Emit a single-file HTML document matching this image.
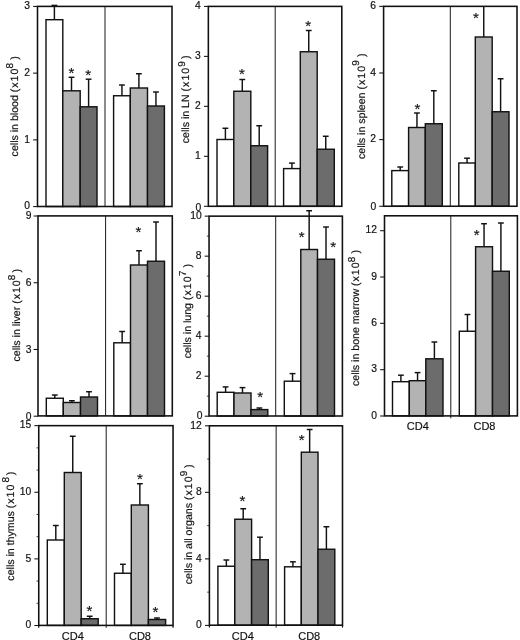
<!DOCTYPE html>
<html lang="en">
<head>
<meta charset="utf-8">
<title>Cell counts per organ</title>
<style>
html,body{margin:0;padding:0;background:#fff;}
body{width:520px;height:640px;overflow:hidden;}
svg{display:block;filter:blur(0.3px);}
svg text{font-family:"Liberation Sans", Arial, Helvetica, sans-serif;font-size:11px;fill:#111;stroke:#111;stroke-width:0.18px;}
svg text.yl{font-size:10.6px;text-rendering:geometricPrecision;}
svg text.tk{font-size:10.3px;}
svg text.st{font-size:15px;stroke-width:0.15px;}
</style>
</head>
<body>
<svg width="520" height="640" viewBox="0 0 520 640">
<rect x="0" y="0" width="520" height="640" fill="#fff"/>
<g>
<line x1="105.0" y1="6.4" x2="105.0" y2="206.5" stroke="#1a1a1a" stroke-width="1.0"/>
<line x1="54.40" y1="19.7" x2="54.40" y2="5.4" stroke="#111" stroke-width="1.45"/>
<line x1="51.50" y1="5.4" x2="57.30" y2="5.4" stroke="#111" stroke-width="1.45"/>
<line x1="71.50" y1="90.8" x2="71.50" y2="77.3" stroke="#111" stroke-width="1.45"/>
<line x1="68.60" y1="77.3" x2="74.40" y2="77.3" stroke="#111" stroke-width="1.45"/>
<line x1="88.60" y1="106.8" x2="88.60" y2="79.2" stroke="#111" stroke-width="1.45"/>
<line x1="85.70" y1="79.2" x2="91.50" y2="79.2" stroke="#111" stroke-width="1.45"/>
<line x1="121.95" y1="95.75" x2="121.95" y2="85.0" stroke="#111" stroke-width="1.45"/>
<line x1="119.05" y1="85.0" x2="124.85" y2="85.0" stroke="#111" stroke-width="1.45"/>
<line x1="138.90" y1="88.0" x2="138.90" y2="73.75" stroke="#111" stroke-width="1.45"/>
<line x1="136.00" y1="73.75" x2="141.80" y2="73.75" stroke="#111" stroke-width="1.45"/>
<line x1="155.95" y1="106.0" x2="155.95" y2="92.0" stroke="#111" stroke-width="1.45"/>
<line x1="153.05" y1="92.0" x2="158.85" y2="92.0" stroke="#111" stroke-width="1.45"/>
<rect x="46.0" y="19.7" width="16.80" height="186.80" fill="#fff" stroke="#111" stroke-width="1.42"/>
<rect x="62.8" y="90.8" width="17.40" height="115.70" fill="#b3b3b3" stroke="#111" stroke-width="1.42"/>
<rect x="80.2" y="106.8" width="16.80" height="99.70" fill="#6c6c6c" stroke="#111" stroke-width="1.42"/>
<rect x="113.6" y="95.75" width="16.70" height="110.75" fill="#fff" stroke="#111" stroke-width="1.42"/>
<rect x="130.3" y="88.0" width="17.20" height="118.50" fill="#b3b3b3" stroke="#111" stroke-width="1.42"/>
<rect x="147.5" y="106.0" width="16.90" height="100.50" fill="#6c6c6c" stroke="#111" stroke-width="1.42"/>
<rect x="37.5" y="6.4" width="134.50" height="200.10" fill="none" stroke="#111" stroke-width="1.5699999999999998"/>
<line x1="33.1" y1="206.60" x2="37.5" y2="206.60" stroke="#111" stroke-width="1.05"/>
<text x="29.90" y="209.35" text-anchor="end" class="tk">0</text>
<line x1="33.1" y1="139.87" x2="37.5" y2="139.87" stroke="#111" stroke-width="1.05"/>
<text x="29.90" y="142.62" text-anchor="end" class="tk">1</text>
<line x1="33.1" y1="73.13" x2="37.5" y2="73.13" stroke="#111" stroke-width="1.05"/>
<text x="29.90" y="75.88" text-anchor="end" class="tk">2</text>
<line x1="33.1" y1="6.40" x2="37.5" y2="6.40" stroke="#111" stroke-width="1.05"/>
<text x="29.90" y="9.15" text-anchor="end" class="tk">3</text>
<text class="st" x="71.3" y="77.50" text-anchor="middle">*</text>
<text class="st" x="88.2" y="80.00" text-anchor="middle">*</text>
<text class="yl" transform="translate(18.2,106.3) rotate(-90)" text-anchor="middle">cells in blood <tspan letter-spacing="1">(x10</tspan><tspan dx="-0.9" dy="-4.8" font-size="10">8</tspan><tspan dx="3.2" dy="4.8">)</tspan></text>
</g>
<g>
<line x1="275.2" y1="6.4" x2="275.2" y2="206.3" stroke="#1a1a1a" stroke-width="1.0"/>
<line x1="225.40" y1="139.5" x2="225.40" y2="128.25" stroke="#111" stroke-width="1.45"/>
<line x1="222.50" y1="128.25" x2="228.30" y2="128.25" stroke="#111" stroke-width="1.45"/>
<line x1="242.30" y1="91.25" x2="242.30" y2="79.5" stroke="#111" stroke-width="1.45"/>
<line x1="239.40" y1="79.5" x2="245.20" y2="79.5" stroke="#111" stroke-width="1.45"/>
<line x1="259.20" y1="145.75" x2="259.20" y2="125.75" stroke="#111" stroke-width="1.45"/>
<line x1="256.30" y1="125.75" x2="262.10" y2="125.75" stroke="#111" stroke-width="1.45"/>
<line x1="291.95" y1="168.6" x2="291.95" y2="163.1" stroke="#111" stroke-width="1.45"/>
<line x1="289.05" y1="163.1" x2="294.85" y2="163.1" stroke="#111" stroke-width="1.45"/>
<line x1="308.75" y1="51.75" x2="308.75" y2="30.5" stroke="#111" stroke-width="1.45"/>
<line x1="305.85" y1="30.5" x2="311.65" y2="30.5" stroke="#111" stroke-width="1.45"/>
<line x1="325.75" y1="149.25" x2="325.75" y2="136.25" stroke="#111" stroke-width="1.45"/>
<line x1="322.85" y1="136.25" x2="328.65" y2="136.25" stroke="#111" stroke-width="1.45"/>
<rect x="217.0" y="139.5" width="16.80" height="66.80" fill="#fff" stroke="#111" stroke-width="1.42"/>
<rect x="233.8" y="91.25" width="17.00" height="115.05" fill="#b3b3b3" stroke="#111" stroke-width="1.42"/>
<rect x="250.8" y="145.75" width="16.80" height="60.55" fill="#6c6c6c" stroke="#111" stroke-width="1.42"/>
<rect x="283.6" y="168.6" width="16.70" height="37.70" fill="#fff" stroke="#111" stroke-width="1.42"/>
<rect x="300.3" y="51.75" width="16.90" height="154.55" fill="#b3b3b3" stroke="#111" stroke-width="1.42"/>
<rect x="317.2" y="149.25" width="17.10" height="57.05" fill="#6c6c6c" stroke="#111" stroke-width="1.42"/>
<rect x="208.35" y="6.4" width="133.45" height="199.90" fill="none" stroke="#111" stroke-width="1.5699999999999998"/>
<line x1="203.95" y1="206.30" x2="208.35" y2="206.30" stroke="#111" stroke-width="1.05"/>
<text x="201.35" y="211.25" text-anchor="end" class="tk">0</text>
<line x1="203.95" y1="156.33" x2="208.35" y2="156.33" stroke="#111" stroke-width="1.05"/>
<text x="200.75" y="159.08" text-anchor="end" class="tk">1</text>
<line x1="203.95" y1="106.35" x2="208.35" y2="106.35" stroke="#111" stroke-width="1.05"/>
<text x="200.75" y="109.10" text-anchor="end" class="tk">2</text>
<line x1="203.95" y1="56.38" x2="208.35" y2="56.38" stroke="#111" stroke-width="1.05"/>
<text x="200.75" y="59.12" text-anchor="end" class="tk">3</text>
<line x1="203.95" y1="6.40" x2="208.35" y2="6.40" stroke="#111" stroke-width="1.05"/>
<text x="200.75" y="9.15" text-anchor="end" class="tk">4</text>
<text class="st" x="241.8" y="79.20" text-anchor="middle">*</text>
<text class="st" x="308.2" y="30.70" text-anchor="middle">*</text>
<text class="yl" transform="translate(189.3,99.3) rotate(-90)" text-anchor="middle">cells in LN <tspan letter-spacing="1">(x10</tspan><tspan dx="0.1" dy="-4.7" font-size="10">9</tspan><tspan dx="2.2" dy="4.7">)</tspan></text>
</g>
<g>
<line x1="450.3" y1="6.35" x2="450.3" y2="206.25" stroke="#1a1a1a" stroke-width="1.0"/>
<line x1="400.20" y1="170.6" x2="400.20" y2="167.0" stroke="#111" stroke-width="1.45"/>
<line x1="397.30" y1="167.0" x2="403.10" y2="167.0" stroke="#111" stroke-width="1.45"/>
<line x1="416.95" y1="127.5" x2="416.95" y2="113.0" stroke="#111" stroke-width="1.45"/>
<line x1="414.05" y1="113.0" x2="419.85" y2="113.0" stroke="#111" stroke-width="1.45"/>
<line x1="433.80" y1="123.75" x2="433.80" y2="90.75" stroke="#111" stroke-width="1.45"/>
<line x1="430.90" y1="90.75" x2="436.70" y2="90.75" stroke="#111" stroke-width="1.45"/>
<line x1="467.05" y1="163.0" x2="467.05" y2="158.2" stroke="#111" stroke-width="1.45"/>
<line x1="464.15" y1="158.2" x2="469.95" y2="158.2" stroke="#111" stroke-width="1.45"/>
<line x1="483.75" y1="37.0" x2="483.75" y2="6.4" stroke="#111" stroke-width="1.45"/>
<line x1="500.60" y1="111.75" x2="500.60" y2="78.75" stroke="#111" stroke-width="1.45"/>
<line x1="497.70" y1="78.75" x2="503.50" y2="78.75" stroke="#111" stroke-width="1.45"/>
<rect x="391.8" y="170.6" width="16.80" height="35.65" fill="#fff" stroke="#111" stroke-width="1.42"/>
<rect x="408.6" y="127.5" width="16.70" height="78.75" fill="#b3b3b3" stroke="#111" stroke-width="1.42"/>
<rect x="425.3" y="123.75" width="17.00" height="82.50" fill="#6c6c6c" stroke="#111" stroke-width="1.42"/>
<rect x="458.8" y="163.0" width="16.50" height="43.25" fill="#fff" stroke="#111" stroke-width="1.42"/>
<rect x="475.3" y="37.0" width="16.90" height="169.25" fill="#b3b3b3" stroke="#111" stroke-width="1.42"/>
<rect x="492.2" y="111.75" width="16.80" height="94.50" fill="#6c6c6c" stroke="#111" stroke-width="1.42"/>
<rect x="383.6" y="6.35" width="133.40" height="199.90" fill="none" stroke="#111" stroke-width="1.5699999999999998"/>
<line x1="379.20000000000005" y1="206.25" x2="383.6" y2="206.25" stroke="#111" stroke-width="1.05"/>
<text x="376.30" y="209.80" text-anchor="end" class="tk">0</text>
<line x1="379.20000000000005" y1="139.62" x2="383.6" y2="139.62" stroke="#111" stroke-width="1.05"/>
<text x="376.00" y="142.37" text-anchor="end" class="tk">2</text>
<line x1="379.20000000000005" y1="72.98" x2="383.6" y2="72.98" stroke="#111" stroke-width="1.05"/>
<text x="376.00" y="75.73" text-anchor="end" class="tk">4</text>
<line x1="379.20000000000005" y1="6.35" x2="383.6" y2="6.35" stroke="#111" stroke-width="1.05"/>
<text x="376.00" y="9.10" text-anchor="end" class="tk">6</text>
<text class="st" x="417.5" y="114.20" text-anchor="middle">*</text>
<text class="st" x="476.0" y="23.45" text-anchor="middle">*</text>
<text class="yl" transform="translate(365.0,106.3) rotate(-90)" text-anchor="middle">cells in spleen <tspan letter-spacing="1">(x10</tspan><tspan dx="-0.9" dy="-5.6" font-size="10">9</tspan><tspan dx="3.2" dy="5.6">)</tspan></text>
</g>
<g>
<line x1="105.6" y1="215.9" x2="105.6" y2="415.9" stroke="#1a1a1a" stroke-width="1.0"/>
<line x1="54.80" y1="398.25" x2="54.80" y2="395.0" stroke="#111" stroke-width="1.45"/>
<line x1="51.90" y1="395.0" x2="57.70" y2="395.0" stroke="#111" stroke-width="1.45"/>
<line x1="71.90" y1="402.5" x2="71.90" y2="400.75" stroke="#111" stroke-width="1.45"/>
<line x1="69.00" y1="400.75" x2="74.80" y2="400.75" stroke="#111" stroke-width="1.45"/>
<line x1="89.00" y1="397.0" x2="89.00" y2="391.75" stroke="#111" stroke-width="1.45"/>
<line x1="86.10" y1="391.75" x2="91.90" y2="391.75" stroke="#111" stroke-width="1.45"/>
<line x1="122.15" y1="342.8" x2="122.15" y2="331.5" stroke="#111" stroke-width="1.45"/>
<line x1="119.25" y1="331.5" x2="125.05" y2="331.5" stroke="#111" stroke-width="1.45"/>
<line x1="139.00" y1="265.0" x2="139.00" y2="250.75" stroke="#111" stroke-width="1.45"/>
<line x1="136.10" y1="250.75" x2="141.90" y2="250.75" stroke="#111" stroke-width="1.45"/>
<line x1="156.00" y1="261.25" x2="156.00" y2="222.0" stroke="#111" stroke-width="1.45"/>
<line x1="153.10" y1="222.0" x2="158.90" y2="222.0" stroke="#111" stroke-width="1.45"/>
<rect x="46.3" y="398.25" width="17.00" height="17.65" fill="#fff" stroke="#111" stroke-width="1.42"/>
<rect x="63.3" y="402.5" width="17.20" height="13.40" fill="#b3b3b3" stroke="#111" stroke-width="1.42"/>
<rect x="80.5" y="397.0" width="17.00" height="18.90" fill="#6c6c6c" stroke="#111" stroke-width="1.42"/>
<rect x="113.8" y="342.8" width="16.70" height="73.10" fill="#fff" stroke="#111" stroke-width="1.42"/>
<rect x="130.5" y="265.0" width="17.00" height="150.90" fill="#b3b3b3" stroke="#111" stroke-width="1.42"/>
<rect x="147.5" y="261.25" width="17.00" height="154.65" fill="#6c6c6c" stroke="#111" stroke-width="1.42"/>
<rect x="38.0" y="215.9" width="134.30" height="200.00" fill="none" stroke="#111" stroke-width="1.5699999999999998"/>
<line x1="33.6" y1="416.20" x2="38.0" y2="416.20" stroke="#111" stroke-width="1.05"/>
<text x="31.40" y="419.65" text-anchor="end" class="tk">0</text>
<line x1="33.6" y1="349.47" x2="38.0" y2="349.47" stroke="#111" stroke-width="1.05"/>
<text x="31.40" y="352.92" text-anchor="end" class="tk">3</text>
<line x1="33.6" y1="282.73" x2="38.0" y2="282.73" stroke="#111" stroke-width="1.05"/>
<text x="31.40" y="286.18" text-anchor="end" class="tk">6</text>
<line x1="33.6" y1="216.00" x2="38.0" y2="216.00" stroke="#111" stroke-width="1.05"/>
<text x="31.40" y="219.45" text-anchor="end" class="tk">9</text>
<text class="st" x="138.3" y="236.70" text-anchor="middle">*</text>
<text class="yl" transform="translate(20.0,315.2) rotate(-90)" text-anchor="middle">cells in liver <tspan letter-spacing="1">(x10</tspan><tspan dx="-0.9" dy="-4.9" font-size="10">8</tspan><tspan dx="2.2" dy="4.9">)</tspan></text>
</g>
<g>
<line x1="275.7" y1="216.15" x2="275.7" y2="416.0" stroke="#1a1a1a" stroke-width="1.0"/>
<line x1="225.60" y1="392.3" x2="225.60" y2="386.9" stroke="#111" stroke-width="1.45"/>
<line x1="222.70" y1="386.9" x2="228.50" y2="386.9" stroke="#111" stroke-width="1.45"/>
<line x1="242.50" y1="393.0" x2="242.50" y2="387.6" stroke="#111" stroke-width="1.45"/>
<line x1="239.60" y1="387.6" x2="245.40" y2="387.6" stroke="#111" stroke-width="1.45"/>
<line x1="259.40" y1="409.6" x2="259.40" y2="408.0" stroke="#111" stroke-width="1.45"/>
<line x1="256.50" y1="408.0" x2="262.30" y2="408.0" stroke="#111" stroke-width="1.45"/>
<line x1="292.55" y1="381.2" x2="292.55" y2="373.6" stroke="#111" stroke-width="1.45"/>
<line x1="289.65" y1="373.6" x2="295.45" y2="373.6" stroke="#111" stroke-width="1.45"/>
<line x1="309.15" y1="249.5" x2="309.15" y2="210.75" stroke="#111" stroke-width="1.45"/>
<line x1="306.25" y1="210.75" x2="312.05" y2="210.75" stroke="#111" stroke-width="1.45"/>
<line x1="326.00" y1="259.25" x2="326.00" y2="227.0" stroke="#111" stroke-width="1.45"/>
<line x1="323.10" y1="227.0" x2="328.90" y2="227.0" stroke="#111" stroke-width="1.45"/>
<rect x="217.2" y="392.3" width="16.80" height="23.70" fill="#fff" stroke="#111" stroke-width="1.42"/>
<rect x="234.0" y="393.0" width="17.00" height="23.00" fill="#b3b3b3" stroke="#111" stroke-width="1.42"/>
<rect x="251.0" y="409.6" width="16.80" height="6.40" fill="#6c6c6c" stroke="#111" stroke-width="1.42"/>
<rect x="284.3" y="381.2" width="16.50" height="34.80" fill="#fff" stroke="#111" stroke-width="1.42"/>
<rect x="300.8" y="249.5" width="16.70" height="166.50" fill="#b3b3b3" stroke="#111" stroke-width="1.42"/>
<rect x="317.5" y="259.25" width="17.00" height="156.75" fill="#6c6c6c" stroke="#111" stroke-width="1.42"/>
<rect x="209.05" y="216.15" width="133.35" height="199.85" fill="none" stroke="#111" stroke-width="1.5699999999999998"/>
<line x1="204.65" y1="416.20" x2="209.05" y2="416.20" stroke="#111" stroke-width="1.05"/>
<text x="202.45" y="419.35" text-anchor="end" class="tk">0</text>
<line x1="204.65" y1="376.19" x2="209.05" y2="376.19" stroke="#111" stroke-width="1.05"/>
<text x="201.45" y="378.94" text-anchor="end" class="tk">2</text>
<line x1="204.65" y1="336.18" x2="209.05" y2="336.18" stroke="#111" stroke-width="1.05"/>
<text x="201.45" y="338.93" text-anchor="end" class="tk">4</text>
<line x1="204.65" y1="296.17" x2="209.05" y2="296.17" stroke="#111" stroke-width="1.05"/>
<text x="201.45" y="298.92" text-anchor="end" class="tk">6</text>
<line x1="204.65" y1="256.16" x2="209.05" y2="256.16" stroke="#111" stroke-width="1.05"/>
<text x="201.45" y="258.91" text-anchor="end" class="tk">8</text>
<line x1="204.65" y1="216.15" x2="209.05" y2="216.15" stroke="#111" stroke-width="1.05"/>
<text x="201.75" y="219.20" text-anchor="end" class="tk">10</text>
<line x1="206.85000000000002" y1="396.19" x2="209.05" y2="396.19" stroke="#111" stroke-width="0.8"/>
<line x1="206.85000000000002" y1="356.19" x2="209.05" y2="356.19" stroke="#111" stroke-width="0.8"/>
<line x1="206.85000000000002" y1="316.18" x2="209.05" y2="316.18" stroke="#111" stroke-width="0.8"/>
<line x1="206.85000000000002" y1="276.16" x2="209.05" y2="276.16" stroke="#111" stroke-width="0.8"/>
<line x1="206.85000000000002" y1="236.16" x2="209.05" y2="236.16" stroke="#111" stroke-width="0.8"/>
<text class="st" x="260.2" y="402.20" text-anchor="middle">*</text>
<text class="st" x="301.75" y="241.70" text-anchor="middle">*</text>
<text class="st" x="333.25" y="251.70" text-anchor="middle">*</text>
<text class="yl" transform="translate(191.2,311.2) rotate(-90)" text-anchor="middle">cells in lung <tspan letter-spacing="1">(x10</tspan><tspan dx="-0.9" dy="-5.4" font-size="10">7</tspan><tspan dx="3.2" dy="5.4">)</tspan></text>
</g>
<g>
<line x1="450.8" y1="215.8" x2="450.8" y2="418.29999999999995" stroke="#1a1a1a" stroke-width="1.0"/>
<line x1="400.90" y1="381.7" x2="400.90" y2="375.2" stroke="#111" stroke-width="1.45"/>
<line x1="398.00" y1="375.2" x2="403.80" y2="375.2" stroke="#111" stroke-width="1.45"/>
<line x1="417.55" y1="380.7" x2="417.55" y2="372.6" stroke="#111" stroke-width="1.45"/>
<line x1="414.65" y1="372.6" x2="420.45" y2="372.6" stroke="#111" stroke-width="1.45"/>
<line x1="434.40" y1="358.8" x2="434.40" y2="342.0" stroke="#111" stroke-width="1.45"/>
<line x1="431.50" y1="342.0" x2="437.30" y2="342.0" stroke="#111" stroke-width="1.45"/>
<line x1="467.45" y1="331.25" x2="467.45" y2="314.5" stroke="#111" stroke-width="1.45"/>
<line x1="464.55" y1="314.5" x2="470.35" y2="314.5" stroke="#111" stroke-width="1.45"/>
<line x1="484.05" y1="246.75" x2="484.05" y2="223.75" stroke="#111" stroke-width="1.45"/>
<line x1="481.15" y1="223.75" x2="486.95" y2="223.75" stroke="#111" stroke-width="1.45"/>
<line x1="500.90" y1="271.25" x2="500.90" y2="223.0" stroke="#111" stroke-width="1.45"/>
<line x1="498.00" y1="223.0" x2="503.80" y2="223.0" stroke="#111" stroke-width="1.45"/>
<rect x="392.5" y="381.7" width="16.80" height="34.20" fill="#fff" stroke="#111" stroke-width="1.42"/>
<rect x="409.3" y="380.7" width="16.50" height="35.20" fill="#b3b3b3" stroke="#111" stroke-width="1.42"/>
<rect x="425.8" y="358.8" width="17.20" height="57.10" fill="#6c6c6c" stroke="#111" stroke-width="1.42"/>
<rect x="459.3" y="331.25" width="16.30" height="84.65" fill="#fff" stroke="#111" stroke-width="1.42"/>
<rect x="475.6" y="246.75" width="16.90" height="169.15" fill="#b3b3b3" stroke="#111" stroke-width="1.42"/>
<rect x="492.5" y="271.25" width="16.80" height="144.65" fill="#6c6c6c" stroke="#111" stroke-width="1.42"/>
<rect x="384.5" y="215.8" width="132.90" height="200.10" fill="none" stroke="#111" stroke-width="1.5699999999999998"/>
<line x1="380.1" y1="416.00" x2="384.5" y2="416.00" stroke="#111" stroke-width="1.05"/>
<text x="376.90" y="418.75" text-anchor="end" class="tk">0</text>
<line x1="380.1" y1="369.70" x2="384.5" y2="369.70" stroke="#111" stroke-width="1.05"/>
<text x="376.90" y="372.45" text-anchor="end" class="tk">3</text>
<line x1="380.1" y1="323.30" x2="384.5" y2="323.30" stroke="#111" stroke-width="1.05"/>
<text x="376.90" y="326.05" text-anchor="end" class="tk">6</text>
<line x1="380.1" y1="277.00" x2="384.5" y2="277.00" stroke="#111" stroke-width="1.05"/>
<text x="376.90" y="279.75" text-anchor="end" class="tk">9</text>
<line x1="380.1" y1="230.70" x2="384.5" y2="230.70" stroke="#111" stroke-width="1.05"/>
<text x="376.90" y="233.45" text-anchor="end" class="tk">12</text>
<text class="st" x="476.75" y="240.45" text-anchor="middle">*</text>
<text class="yl" transform="translate(358.9,318.0) rotate(-90)" text-anchor="middle">cells in bone marrow <tspan letter-spacing="1">(x10</tspan><tspan dx="-0.9" dy="-3.6" font-size="10">8</tspan><tspan dx="3.2" dy="3.6">)</tspan></text>
<text x="417.8" y="429.8" text-anchor="middle">CD4</text>
<text x="484.5" y="429.8" text-anchor="middle">CD8</text>
</g>
<g>
<line x1="106.2" y1="425.65" x2="106.2" y2="627.8" stroke="#1a1a1a" stroke-width="1.0"/>
<line x1="55.80" y1="540.0" x2="55.80" y2="525.5" stroke="#111" stroke-width="1.45"/>
<line x1="52.90" y1="525.5" x2="58.70" y2="525.5" stroke="#111" stroke-width="1.45"/>
<line x1="72.75" y1="472.5" x2="72.75" y2="436.25" stroke="#111" stroke-width="1.45"/>
<line x1="69.85" y1="436.25" x2="75.65" y2="436.25" stroke="#111" stroke-width="1.45"/>
<line x1="89.70" y1="618.75" x2="89.70" y2="616.25" stroke="#111" stroke-width="1.45"/>
<line x1="86.80" y1="616.25" x2="92.60" y2="616.25" stroke="#111" stroke-width="1.45"/>
<line x1="122.90" y1="573.25" x2="122.90" y2="564.3" stroke="#111" stroke-width="1.45"/>
<line x1="120.00" y1="564.3" x2="125.80" y2="564.3" stroke="#111" stroke-width="1.45"/>
<line x1="139.85" y1="505.0" x2="139.85" y2="483.75" stroke="#111" stroke-width="1.45"/>
<line x1="136.95" y1="483.75" x2="142.75" y2="483.75" stroke="#111" stroke-width="1.45"/>
<line x1="157.00" y1="619.5" x2="157.00" y2="618.0" stroke="#111" stroke-width="1.45"/>
<line x1="154.10" y1="618.0" x2="159.90" y2="618.0" stroke="#111" stroke-width="1.45"/>
<rect x="47.3" y="540.0" width="17.00" height="85.40" fill="#fff" stroke="#111" stroke-width="1.42"/>
<rect x="64.3" y="472.5" width="16.90" height="152.90" fill="#b3b3b3" stroke="#111" stroke-width="1.42"/>
<rect x="81.2" y="618.75" width="17.00" height="6.65" fill="#6c6c6c" stroke="#111" stroke-width="1.42"/>
<rect x="114.5" y="573.25" width="16.80" height="52.15" fill="#fff" stroke="#111" stroke-width="1.42"/>
<rect x="131.3" y="505.0" width="17.10" height="120.40" fill="#b3b3b3" stroke="#111" stroke-width="1.42"/>
<rect x="148.4" y="619.5" width="17.20" height="5.90" fill="#6c6c6c" stroke="#111" stroke-width="1.42"/>
<rect x="38.75" y="425.65" width="134.30" height="199.75" fill="none" stroke="#111" stroke-width="1.5699999999999998"/>
<line x1="38.75" y1="625.4" x2="38.75" y2="627.8" stroke="#111" stroke-width="1.2"/>
<line x1="173.05" y1="625.4" x2="173.05" y2="627.8" stroke="#111" stroke-width="1.2"/>
<line x1="34.35" y1="625.50" x2="38.75" y2="625.50" stroke="#111" stroke-width="1.05"/>
<text x="31.15" y="628.25" text-anchor="end" class="tk">0</text>
<line x1="34.35" y1="558.88" x2="38.75" y2="558.88" stroke="#111" stroke-width="1.05"/>
<text x="31.15" y="561.63" text-anchor="end" class="tk">5</text>
<line x1="34.35" y1="492.27" x2="38.75" y2="492.27" stroke="#111" stroke-width="1.05"/>
<text x="31.15" y="495.02" text-anchor="end" class="tk">10</text>
<line x1="34.35" y1="425.65" x2="38.75" y2="425.65" stroke="#111" stroke-width="1.05"/>
<text x="31.15" y="428.40" text-anchor="end" class="tk">15</text>
<line x1="36.55" y1="603.29" x2="38.75" y2="603.29" stroke="#111" stroke-width="0.8"/>
<line x1="36.55" y1="581.09" x2="38.75" y2="581.09" stroke="#111" stroke-width="0.8"/>
<line x1="36.55" y1="536.68" x2="38.75" y2="536.68" stroke="#111" stroke-width="0.8"/>
<line x1="36.55" y1="514.47" x2="38.75" y2="514.47" stroke="#111" stroke-width="0.8"/>
<line x1="36.55" y1="470.06" x2="38.75" y2="470.06" stroke="#111" stroke-width="0.8"/>
<line x1="36.55" y1="447.86" x2="38.75" y2="447.86" stroke="#111" stroke-width="0.8"/>
<text class="st" x="89.5" y="616.20" text-anchor="middle">*</text>
<text class="st" x="140.0" y="484.20" text-anchor="middle">*</text>
<text class="st" x="155.5" y="616.70" text-anchor="middle">*</text>
<text class="yl" transform="translate(13.8,526.2) rotate(-90)" text-anchor="middle">cells in thymus <tspan letter-spacing="1">(x10</tspan><tspan dx="1.1" dy="-4.7" font-size="10">8</tspan><tspan dx="1.7" dy="4.7">)</tspan></text>
<text x="72.8" y="640.2" text-anchor="middle">CD4</text>
<text x="140.0" y="640.2" text-anchor="middle">CD8</text>
</g>
<g>
<line x1="276.15" y1="425.8" x2="276.15" y2="627.6" stroke="#1a1a1a" stroke-width="1.0"/>
<line x1="226.35" y1="566.25" x2="226.35" y2="560.0" stroke="#111" stroke-width="1.45"/>
<line x1="223.45" y1="560.0" x2="229.25" y2="560.0" stroke="#111" stroke-width="1.45"/>
<line x1="243.20" y1="519.25" x2="243.20" y2="508.75" stroke="#111" stroke-width="1.45"/>
<line x1="240.30" y1="508.75" x2="246.10" y2="508.75" stroke="#111" stroke-width="1.45"/>
<line x1="259.95" y1="559.7" x2="259.95" y2="537.2" stroke="#111" stroke-width="1.45"/>
<line x1="257.05" y1="537.2" x2="262.85" y2="537.2" stroke="#111" stroke-width="1.45"/>
<line x1="292.95" y1="566.8" x2="292.95" y2="561.8" stroke="#111" stroke-width="1.45"/>
<line x1="290.05" y1="561.8" x2="295.85" y2="561.8" stroke="#111" stroke-width="1.45"/>
<line x1="309.65" y1="452.2" x2="309.65" y2="429.5" stroke="#111" stroke-width="1.45"/>
<line x1="306.75" y1="429.5" x2="312.55" y2="429.5" stroke="#111" stroke-width="1.45"/>
<line x1="326.40" y1="549.25" x2="326.40" y2="526.75" stroke="#111" stroke-width="1.45"/>
<line x1="323.50" y1="526.75" x2="329.30" y2="526.75" stroke="#111" stroke-width="1.45"/>
<rect x="217.9" y="566.25" width="16.90" height="58.95" fill="#fff" stroke="#111" stroke-width="1.42"/>
<rect x="234.8" y="519.25" width="16.80" height="105.95" fill="#b3b3b3" stroke="#111" stroke-width="1.42"/>
<rect x="251.6" y="559.7" width="16.70" height="65.50" fill="#6c6c6c" stroke="#111" stroke-width="1.42"/>
<rect x="284.6" y="566.8" width="16.70" height="58.40" fill="#fff" stroke="#111" stroke-width="1.42"/>
<rect x="301.3" y="452.2" width="16.70" height="173.00" fill="#b3b3b3" stroke="#111" stroke-width="1.42"/>
<rect x="318.0" y="549.25" width="16.80" height="75.95" fill="#6c6c6c" stroke="#111" stroke-width="1.42"/>
<rect x="209.4" y="425.8" width="133.10" height="199.40" fill="none" stroke="#111" stroke-width="1.5699999999999998"/>
<line x1="209.4" y1="625.2" x2="209.4" y2="627.6" stroke="#111" stroke-width="1.2"/>
<line x1="342.5" y1="625.2" x2="342.5" y2="627.6" stroke="#111" stroke-width="1.2"/>
<line x1="205.0" y1="625.40" x2="209.4" y2="625.40" stroke="#111" stroke-width="1.05"/>
<text x="201.80" y="628.15" text-anchor="end" class="tk">0</text>
<line x1="205.0" y1="558.87" x2="209.4" y2="558.87" stroke="#111" stroke-width="1.05"/>
<text x="201.80" y="561.62" text-anchor="end" class="tk">4</text>
<line x1="205.0" y1="492.33" x2="209.4" y2="492.33" stroke="#111" stroke-width="1.05"/>
<text x="201.80" y="495.08" text-anchor="end" class="tk">8</text>
<line x1="205.0" y1="425.80" x2="209.4" y2="425.80" stroke="#111" stroke-width="1.05"/>
<text x="201.80" y="428.55" text-anchor="end" class="tk">12</text>
<line x1="207.20000000000002" y1="592.13" x2="209.4" y2="592.13" stroke="#111" stroke-width="0.8"/>
<line x1="207.20000000000002" y1="525.60" x2="209.4" y2="525.60" stroke="#111" stroke-width="0.8"/>
<line x1="207.20000000000002" y1="459.07" x2="209.4" y2="459.07" stroke="#111" stroke-width="0.8"/>
<text class="st" x="242.5" y="506.20" text-anchor="middle">*</text>
<text class="st" x="301.75" y="444.95" text-anchor="middle">*</text>
<text class="yl" transform="translate(191.9,524.4) rotate(-90)" text-anchor="middle">cells in all organs <tspan letter-spacing="1">(x10</tspan><tspan dx="-0.9" dy="-4.7" font-size="10">9</tspan><tspan dx="2.7" dy="4.7">)</tspan></text>
<text x="242.8" y="640.2" text-anchor="middle">CD4</text>
<text x="309.2" y="640.2" text-anchor="middle">CD8</text>
</g>
</svg>
</body>
</html>
